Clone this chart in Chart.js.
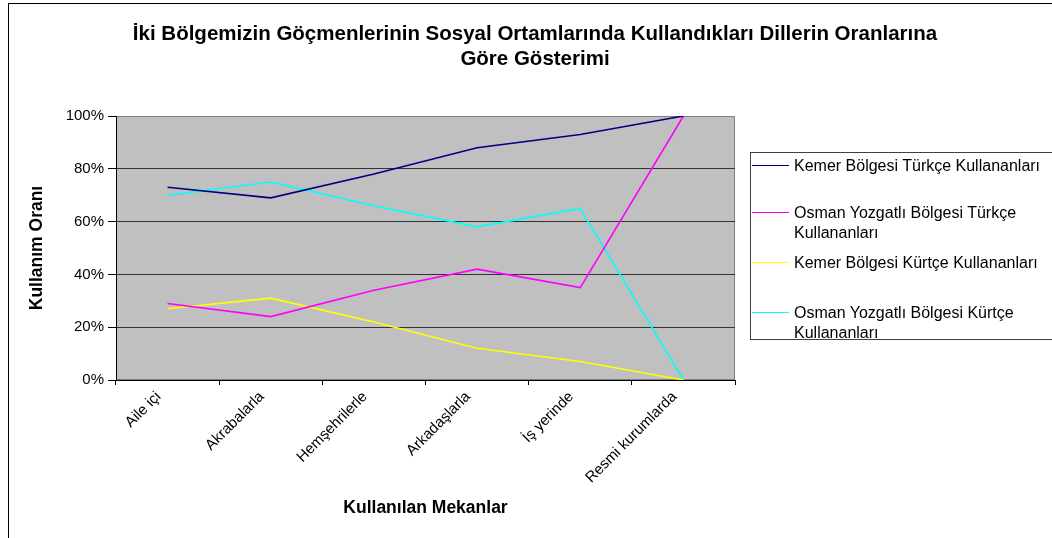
<!DOCTYPE html>
<html lang="tr">
<head>
    <meta charset="utf-8">
    <title>Kullanım Oranı</title>
    <script src="https://cdn.jsdelivr.net/npm/chart.js"></script>
    <style>
        body {
            margin: 0;
            width: 1052px;
            height: 538px;
            overflow: hidden;
            background: #ffffff;
            font-family: 'Liberation Sans', Arial, sans-serif;
            position: relative;
        }
        .frame {
            position: absolute;
            left: 8px;
            top: 3px;
            width: 1100px;
            height: 600px;
            border: 1px solid #000;
        }
        #chart {
            position: absolute;
            left: 0;
            top: 0;
        }
        .title {
            position: absolute;
            left: 8px;
            width: 1054px;
            top: 20px;
            text-align: center;
            font-weight: bold;
            font-size: 20.5px;
            line-height: 25px;
            color: #000;
        }
        .legend {
            position: absolute;
            left: 750px;
            top: 152px;
            width: 400px;
            height: 186px;
            border: 1px solid #404040;
            background: #fff;
        }
        .legend-item {
            position: absolute;
            left: 0;
            font-size: 16px;
            line-height: 20px;
            color: #000;
        }
        .legend-line {
            position: absolute;
            left: 1px;
            top: 9px;
            width: 37px;
            height: 0;
            border-top: 1.5px solid;
        }
        .legend-text {
            margin-left: 43px;
            white-space: nowrap;
        }
    </style>
</head>
<body>
    <div class="frame"></div>
    <canvas id="chart" width="1052" height="538"></canvas>
    <div class="title">İki Bölgemizin Göçmenlerinin Sosyal Ortamlarında Kullandıkları Dillerin Oranlarına<br>Göre Gösterimi</div>
    <div class="legend" id="legend"></div>

    <script>
        // Veriler
        const mekanlar = ['Aile içi', 'Akrabalarla', 'Hemşehrilerle', 'Arkadaşlarla', 'İş yerinde', 'Resmi kurumlarda'];
        const kemerTurkce = [73, 69, 78, 88, 93, 100];
        const osmanTurkce = [29, 24, 34, 42, 35, 100];
        const kemerKurtce = [27, 31, 22, 12, 7, 0];
        const osmanKurtce = [70, 75, 66, 58, 65, 0];
        const yuzdeTikleri = [0, 20, 40, 60, 80, 100];
        const seriAdlari = [
            ['Kemer Bölgesi Türkçe Kullananları'],
            ['Osman Yozgatlı Bölgesi Türkçe', 'Kullananları'],
            ['Kemer Bölgesi Kürtçe Kullananları'],
            ['Osman Yozgatlı Bölgesi Kürtçe', 'Kullananları']
        ];
        const renkler = ['#000080', '#ff00ff', '#ffff00', '#00ffff'];
        const seriler = [kemerTurkce, osmanTurkce, kemerKurtce, osmanKurtce];

        // gri çizim alanı
        const plotBg = {
            id: 'plotBg',
            beforeDraw(chart) {
                const { ctx, chartArea: a } = chart;
                ctx.save();
                ctx.fillStyle = '#c0c0c0';
                ctx.fillRect(a.left, a.top, a.right - a.left, a.bottom - a.top);
                ctx.strokeStyle = '#808080';
                ctx.lineWidth = 1;
                ctx.strokeRect(a.left + 0.5, a.top + 0.5, a.right - a.left - 1, a.bottom - a.top - 1);
                ctx.restore();
            }
        };

        const chart = new Chart(document.getElementById('chart'), {
            type: 'line',
            data: {
                labels: mekanlar,
                datasets: seriler.map((d, i) => ({
                    label: seriAdlari[i].join(' '),
                    data: d,
                    borderColor: renkler[i],
                    backgroundColor: renkler[i],
                    borderWidth: 1.6,
                    pointRadius: 0,
                    tension: 0
                }))
            },
            options: {
                responsive: false,
                animation: false,
                layout: { padding: { left: 0, top: 116, right: 317, bottom: 0 } },
                plugins: {
                    legend: { display: false },
                    tooltip: { enabled: false }
                },
                scales: {
                    x: {
                        offset: true,
                        afterFit: s => { s.height = 158; },
                        grid: {
                            offset: true,
                            drawOnChartArea: false,
                            tickLength: 5,
                            tickColor: '#000'
                        },
                        border: { color: '#000', width: 1 },
                        ticks: {
                            autoSkip: false,
                            minRotation: 45,
                            maxRotation: 45,
                            labelOffset: -9,
                            color: '#000',
                            padding: 3,
                            font: { family: 'Liberation Sans', size: 15 }
                        },
                        title: {
                            display: true,
                            text: 'Kullanılan Mekanlar',
                            color: '#000',
                            padding: { top: 0, bottom: 19.5 },
                            font: { family: 'Liberation Sans', size: 17.5, weight: 'bold' }
                        }
                    },
                    y: {
                        min: 0,
                        max: 100,
                        afterFit: s => { s.width = 116; },
                        afterBuildTicks: s => { s.ticks = yuzdeTikleri.map(v => ({ value: v })); },
                        grid: {
                            color: c => c.tick.value === 100 ? '#808080' : '#333333',
                            tickColor: '#000',
                            tickLength: 8
                        },
                        border: { color: '#000', width: 1 },
                        ticks: {
                            color: '#000',
                            padding: 4,
                            font: { family: 'Liberation Sans', size: 15 },
                            callback: v => v + '%'
                        },
                        title: {
                            display: true,
                            text: 'Kullanım Oranı',
                            color: '#000',
                            padding: { top: 26.5, bottom: 0 },
                            font: { family: 'Liberation Sans', size: 17.5, weight: 'bold' }
                        }
                    }
                }
            },
            plugins: [plotBg]
        });

        // Lejant
        const legend = document.getElementById('legend');
        const ustler = [3, 50, 100, 150];
        seriAdlari.forEach((satirlar, i) => {
            const item = document.createElement('div');
            item.className = 'legend-item';
            item.style.top = ustler[i] + 'px';
            item.innerHTML = `<div class="legend-line" style="border-color:${renkler[i]}"></div>` +
                `<div class="legend-text">${satirlar.join('<br>')}</div>`;
            legend.appendChild(item);
        });
    </script>
</body>
</html>
